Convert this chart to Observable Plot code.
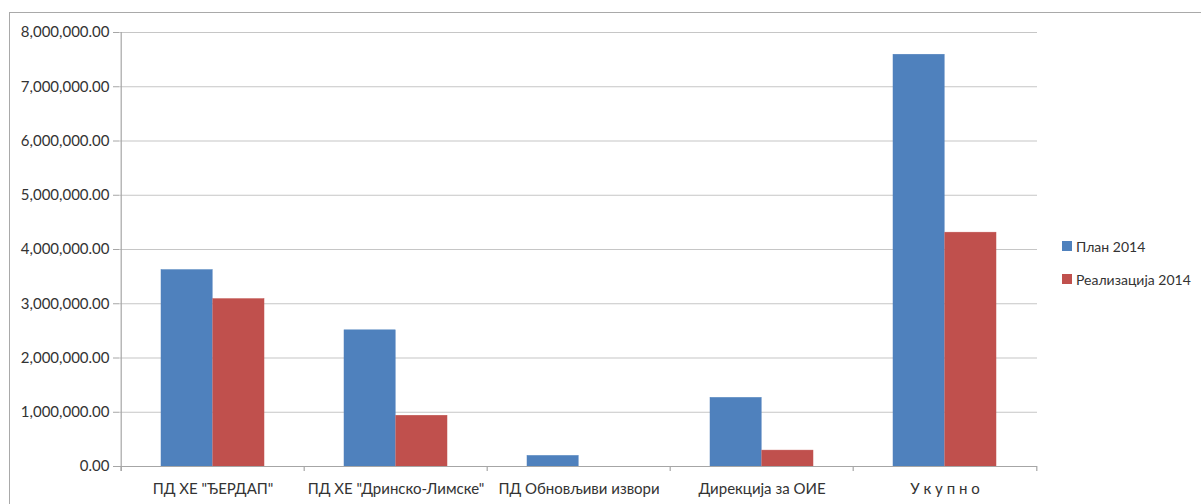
<!DOCTYPE html>
<html><head><meta charset="utf-8">
<script src="https://cdn.jsdelivr.net/npm/d3@7"></script>
<script src="https://cdn.jsdelivr.net/npm/@observablehq/plot@0.6"></script>
<style>
body{margin:0;background:#fff;font-family:Lato,sans-serif;}
#wrap{position:relative;width:1201px;height:504px;overflow:hidden;}
#frame{position:absolute;left:9px;top:12px;width:1300px;height:600px;border:1px solid #a9a9a9;box-sizing:border-box;}
#chart{position:absolute;left:0;top:0;}
#legend{position:absolute;left:1062px;top:238px;font:14px Lato,sans-serif;color:#333;}
.item{display:flex;align-items:center;height:16px;margin-bottom:17px;white-space:nowrap;}
.sw{width:10px;height:10px;margin-right:4px;flex:none;}
g[aria-label="y-axis tick"]{stroke:#a6a6a6;}
g[aria-label="y-axis"] .tick line{stroke:#a6a6a6;}
</style></head><body>
<div id="wrap"><div id="frame"></div><div id="chart"></div><div id="legend"></div></div>
<script>
const categories = ["ПД ХЕ \"ЂЕРДАП\"", "ПД ХЕ \"Дринско-Лимске\"", "ПД Обновљиви извори", "Дирекција за ОИЕ", "У к у п н о"];
const series = ["План 2014", "Реализација 2014"];
const plan2014 = [3620000, 2510000, 195000, 1265000, 7590000];
const real2014 = [3085000, 935000, 0, 293000, 4310000];
const yTicks = [0, 1000000, 2000000, 3000000, 4000000, 5000000, 6000000, 7000000, 8000000];
const colors = ["#4F81BD", "#C0504D"];

const rows = [];
categories.forEach((c, i) => {
  rows.push({category: c, series: series[0], value: plan2014[i]});
  rows.push({category: c, series: series[1], value: real2014[i]});
});

const W = 1201, H = 504, mL = 119, mR = 164, mT = 32, mB = 38;
const bw = (W - mL - mR) / categories.length;
const gap = 40;
const barW = (bw - 2 * gap) / 2;
const axisGray = "#a6a6a6";

const chart = Plot.plot({
  width: W, height: H,
  marginLeft: mL, marginRight: mR, marginTop: mT, marginBottom: mB,
  style: {fontFamily: "Lato, sans-serif", fontSize: "15px", color: "#333", background: "transparent"},
  x: {domain: categories, padding: 0, tickSize: 0, tickPadding: 17, label: null},
  y: {domain: [0, 8000000], ticks: yTicks, tickFormat: d3.format(",.2f"), tickSize: 6, tickPadding: 4, label: null},
  color: {domain: series, range: colors},
  marks: [
    Plot.ruleY(yTicks, {stroke: "#c6c6c6", strokeWidth: 1.2}),
    Plot.barY(rows.filter(d => d.series === series[0]), {x: "category", y: "value", fill: "series", stroke: "series", strokeWidth: 0.5, insetLeft: gap, insetRight: gap + barW}),
    Plot.barY(rows.filter(d => d.series === series[1]), {x: "category", y: "value", fill: "series", stroke: "series", strokeWidth: 0.5, insetLeft: gap + barW, insetRight: gap}),
    Plot.ruleY([0], {stroke: axisGray, strokeWidth: 1.2}),
    Plot.ruleX(categories.slice(0, 1), {x: d => d, dx: -bw / 2, y1: 8000000, y2: 0, insetBottom: -5, stroke: axisGray, strokeWidth: 1.2}),
    Plot.ruleX(categories, {x: d => d, dx: -bw / 2, y1: 0, y2: 0, insetBottom: -5, stroke: axisGray, strokeWidth: 1.2}),
    Plot.ruleX(categories.slice(-1), {x: d => d, dx: bw / 2, y1: 0, y2: 0, insetBottom: -5, stroke: axisGray, strokeWidth: 1.2})
  ]
});
document.getElementById("chart").appendChild(chart);

const legend = document.getElementById("legend");
series.forEach((s, i) => {
  const item = document.createElement("div");
  item.className = "item";
  const sw = document.createElement("span");
  sw.className = "sw";
  sw.style.background = colors[i];
  const t = document.createElement("span");
  t.textContent = s;
  item.appendChild(sw);
  item.appendChild(t);
  legend.appendChild(item);
});
</script>
</body></html>
